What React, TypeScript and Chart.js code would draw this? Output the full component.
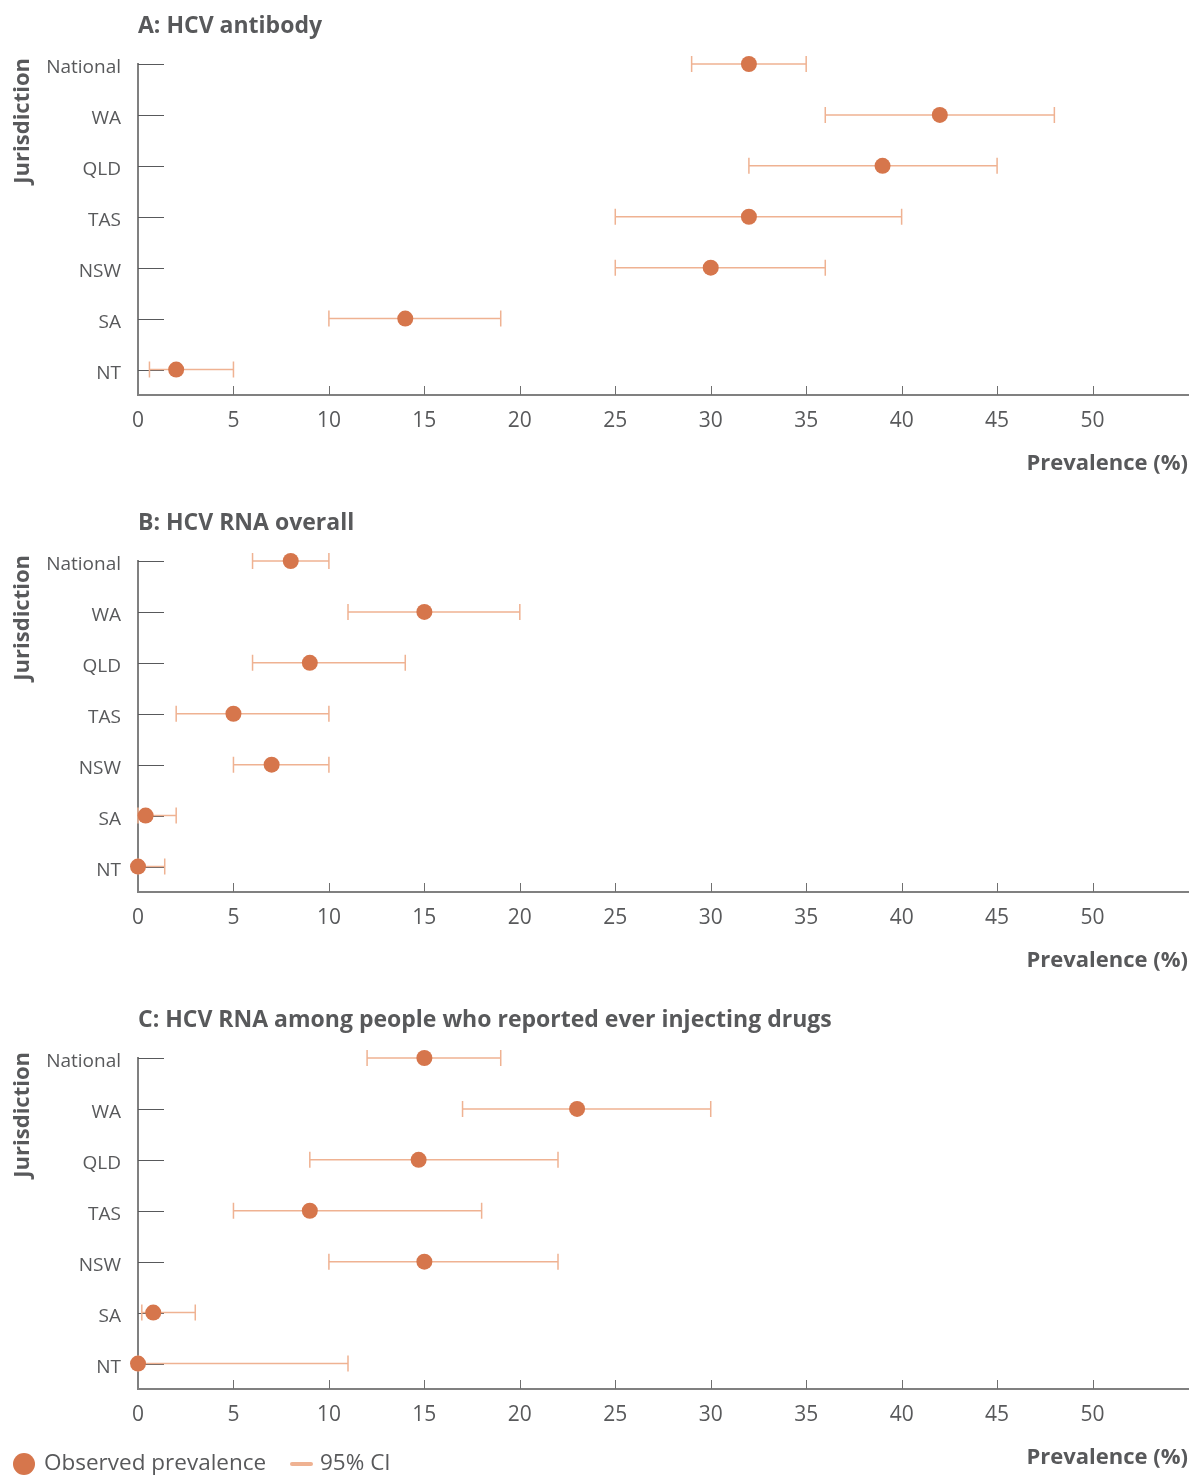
import { useEffect, useRef } from "react";
import { Chart, registerables } from "chart.js";
Chart.register(...registerables);

const jurisdictions = ["National", "WA", "QLD", "TAS", "NSW", "SA", "NT"];
const xTickValues = [0, 5, 10, 15, 20, 25, 30, 35, 40, 45, 50];

const antibodyPrev = [32, 42, 39, 32, 30, 14, 2];
const antibodyLow = [29, 36, 32, 25, 25, 10, 0.6];
const antibodyHigh = [35, 48, 45, 40, 36, 19, 5];

const rnaPrev = [8, 15, 9, 5, 7, 0.4, 0];
const rnaLow = [6, 11, 6, 2, 5, 0, 0];
const rnaHigh = [10, 20, 14, 10, 10, 2, 1.4];

const pwidPrev = [15, 23, 14.7, 9, 15, 0.8, 0];
const pwidLow = [12, 17, 9, 5, 10, 0.2, 0];
const pwidHigh = [19, 30, 22, 18, 22, 3, 11];

const FONT = "'Open Sans', 'Noto Sans', sans-serif";
const TEXT = "#58595b";
const AXIS = "#808080";
const POINT = "#d6764c";
const CI = "#efb292";

type PanelProps = {
  title: string;
  prev: number[];
  low: number[];
  high: number[];
  height: number;
  legend?: boolean;
};

function Panel({ title, prev, low, high, height, legend }: PanelProps) {
  const ref = useRef<HTMLCanvasElement | null>(null);
  useEffect(() => {
    if (!ref.current) return;
    const n = jurisdictions.length;
    const yOf = (i: number) => n - 1 - i;
    const decor = {
      id: "decor",
      beforeDatasetsDraw(chart: any) {
        const { ctx, chartArea } = chart;
        const xs = chart.scales.x;
        const ys = chart.scales.y;
        ctx.save();
        // inner y ticks
        ctx.strokeStyle = "#58595b";
        ctx.lineWidth = 1;
        jurisdictions.forEach((_, i) => {
          const py = Math.round(ys.getPixelForValue(yOf(i))) + 0.5;
          ctx.beginPath();
          ctx.moveTo(chartArea.left, py);
          ctx.lineTo(chartArea.left + 26, py);
          ctx.stroke();
        });
        // inner x ticks
        ctx.strokeStyle = "#707070";
        xTickValues.forEach((v) => {
          if (v === 0) return;
          const px = Math.round(xs.getPixelForValue(v)) + 0.5;
          ctx.beginPath();
          ctx.moveTo(px, chartArea.bottom);
          ctx.lineTo(px, chartArea.bottom - 9);
          ctx.stroke();
        });
        // CI bars
        ctx.strokeStyle = CI;
        ctx.lineWidth = 1.5;
        jurisdictions.forEach((_, i) => {
          const py = ys.getPixelForValue(yOf(i));
          const x1 = xs.getPixelForValue(low[i]);
          const x2 = xs.getPixelForValue(high[i]);
          ctx.beginPath();
          ctx.moveTo(x1, py);
          ctx.lineTo(x2, py);
          ctx.moveTo(x1, py - 8);
          ctx.lineTo(x1, py + 8);
          ctx.moveTo(x2, py - 8);
          ctx.lineTo(x2, py + 8);
          ctx.stroke();
        });
        ctx.restore();
      },
      afterDraw(chart: any) {
        const { ctx, chartArea } = chart;
        ctx.save();
        ctx.fillStyle = TEXT;
        ctx.font = `bold 23px ${FONT}`;
        ctx.textBaseline = "middle";
        ctx.textAlign = "left";
        ctx.fillText(title, chartArea.left, 26);
        // y-axis title
        ctx.save();
        ctx.translate(23, 58);
        ctx.rotate(-Math.PI / 2);
        ctx.textAlign = "right";
        ctx.textBaseline = "middle";
        ctx.font = `bold 22px ${FONT}`;
        ctx.fillText("Jurisdiction", 0, 0);
        ctx.restore();
        if (legend) {
          const ly = chart.height - 11;
          ctx.fillStyle = POINT;
          ctx.beginPath();
          ctx.arc(24, ly, 11, 0, Math.PI * 2);
          ctx.fill();
          ctx.fillStyle = TEXT;
          ctx.font = `22.5px ${FONT}`;
          ctx.textAlign = "left";
          ctx.fillText("Observed prevalence", 44, ly);
          ctx.strokeStyle = CI;
          ctx.lineWidth = 4;
          ctx.lineCap = "round";
          ctx.beginPath();
          ctx.moveTo(292, ly);
          ctx.lineTo(311, ly);
          ctx.stroke();
          ctx.fillText("95% CI", 320, ly);
        }
        ctx.restore();
      },
    };

    const chart = new Chart(ref.current, {
      type: "scatter",
      data: {
        datasets: [
          {
            label: "Observed prevalence",
            data: prev.map((v, i) => ({ x: v, y: yOf(i) })),
            backgroundColor: POINT,
            borderWidth: 0,
            pointRadius: 8,
            pointHoverRadius: 8,
            clip: false as any,
          },
        ],
      },
      options: {
        animation: false,
        responsive: false,
        maintainAspectRatio: false,
        layout: { autoPadding: false, padding: { top: 64, right: 3, left: 0, bottom: 0 } },
        plugins: {
          legend: { display: false },
          tooltip: { enabled: false },
          title: { display: false },
        },
        scales: {
          x: {
            type: "linear",
            min: 0,
            max: 55,
            afterBuildTicks: (s: any) => {
              s.ticks = xTickValues.map((v) => ({ value: v }));
            },
            afterFit: (s: any) => {
              s.height = height - 395;
              s.paddingRight = 0;
              s.paddingLeft = 0;
            },
            grid: { display: false, drawTicks: false },
            border: { display: true, color: AXIS, width: 2 },
            ticks: {
              color: TEXT,
              font: { family: FONT, size: 21 },
              padding: 13,
              maxRotation: 0,
              autoSkip: false,
            },
            title: {
              display: true,
              text: "Prevalence (%)",
              align: "end",
              color: TEXT,
              font: { family: FONT, size: 22, weight: "bold" },
              padding: { top: 0, bottom: height - 464 - 13.2 },
            },
          },
          y: {
            type: "linear",
            min: -0.5,
            max: n - 1,
            afterBuildTicks: (s: any) => {
              s.ticks = jurisdictions.map((_, i) => ({ value: yOf(i) }));
            },
            afterFit: (s: any) => {
              s.width = 138;
              s.paddingTop = 0;
              s.paddingBottom = 0;
            },
            grid: { display: false, drawTicks: false },
            border: { display: true, color: AXIS, width: 2 },
            ticks: {
              color: TEXT,
              font: { family: FONT, size: 19 },
              padding: 17,
              labelOffset: 4,
              autoSkip: false,
              callback: (v: any) => jurisdictions[n - 1 - Number(v)],
            },
            title: { display: false },
          },
        },
      },
      plugins: [decor],
    } as any);
    return () => chart.destroy();
  }, [title, prev, low, high, height, legend]);
  return (
    <canvas
      ref={ref}
      width={1191}
      height={height}
      style={{ display: "block", width: 1191, height }}
    />
  );
}

export default function App() {
  useEffect(() => {
    document.body.style.margin = "0";
  }, []);
  return (
    <div style={{ width: 1191, background: "#fff" }}>
      <Panel title="A: HCV antibody" prev={antibodyPrev} low={antibodyLow} high={antibodyHigh} height={497} />
      <Panel title="B: HCV RNA overall" prev={rnaPrev} low={rnaLow} high={rnaHigh} height={497} />
      <Panel
        title="C: HCV RNA among people who reported ever injecting drugs"
        prev={pwidPrev}
        low={pwidLow}
        high={pwidHigh}
        height={481}
        legend
      />
    </div>
  );
}
